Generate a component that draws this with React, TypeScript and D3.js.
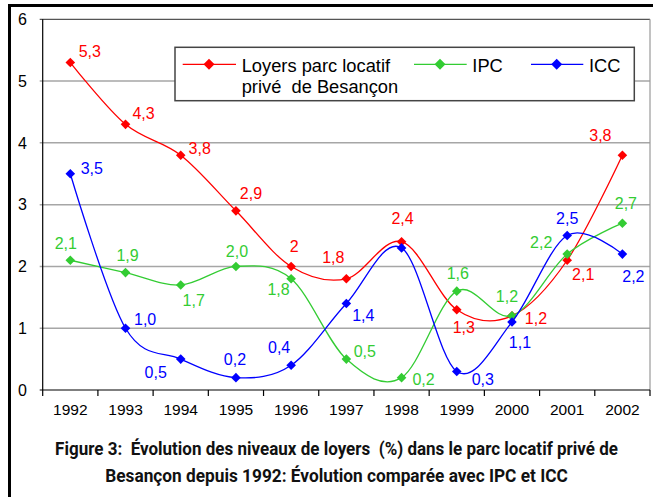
import React from "react";
import * as d3 from "d3";

const years = ["1992","1993","1994","1995","1996","1997","1998","1999","2000","2001","2002"];
const loyers = [5.3, 4.3, 3.8, 2.9, 2.0, 1.8, 2.4, 1.3, 1.2, 2.1, 3.8];
const ipc = [2.1, 1.9, 1.7, 2.0, 1.8, 0.5, 0.2, 1.6, 1.2, 2.2, 2.7];
const icc = [3.5, 1.0, 0.5, 0.2, 0.4, 1.4, 2.3, 0.3, 1.1, 2.5, 2.2];
const loyersLabels = ["5,3","4,3","3,8","2,9","2","1,8","2,4","1,3","1,2","2,1","3,8"];
const ipcLabels = ["2,1","1,9","1,7","2,0","1,8","0,5","0,2","1,6","1,2","2,2","2,7"];
const iccLabels = ["3,5","1,0","0,5","0,2","0,4","1,4","","0,3","1,1","2,5","2,2"];
const yTicks = [0, 1, 2, 3, 4, 5, 6];
const captionLines = [
  "Figure 3:  Évolution des niveaux de loyers  (%) dans le parc locatif privé de",
  "Besançon depuis 1992: Évolution comparée avec IPC et ICC",
];

// label offsets (dx, dy) relative to each point, layout only
const loyersOff = [[19.5,-5.5],[18,-5.3],[19,-1.2],[15,-11.5],[3,-14],[-13,-16],[1,-17.4],[7,23.6],[24,8],[16,20],[-22,-14]];
const ipcOff = [[-4.5,-11],[2,-12],[13,21],[1,-9],[-12.6,16],[18.5,-2],[22,7.4],[1,-12],[-5,-13.5],[-26,-6],[3.5,-14]];
const iccOff = [[21.5,0],[19.6,-3],[-25,18.6],[-1,-12.6],[-12,-12],[17,17.5],[0,0],[26,13.5],[8,26],[0,-12],[11,27.7]];

const W = 653, H = 497;
const left = 42.7, right = 650, top = 19.3, bottom = 390;

const capFont = "bold 18.5px Roboto";
function measure(text: string, font: string): number {
  if (typeof document === "undefined") return 0;
  const c = document.createElement("canvas").getContext("2d");
  if (!c) return 0;
  c.font = font;
  return c.measureText(text).width;
}

export default function App() {
  const x = d3.scaleBand<string>().domain(years).range([left, right]);
  const y = d3.scaleLinear().domain([0, 6]).range([bottom, top]);
  const cx = (i: number) => (x(years[i]) as number) + x.bandwidth() / 2;
  const line = d3.line<number>().x((_, i) => cx(i)).y((d) => y(d)).curve(d3.curveCardinal.tension(0));
  const series = [
    { vals: loyers, labels: loyersLabels, off: loyersOff, color: "#ff0000" },
    { vals: ipc, labels: ipcLabels, off: ipcOff, color: "#33cc33" },
    { vals: icc, labels: iccLabels, off: iccOff, color: "#0000ff" },
  ];
  const diamond = (px: number, py: number, r = 4.8) =>
    `M${px},${py - r}L${px + r},${py}L${px},${py + r}L${px - r},${py}Z`;
  const font = "'Liberation Sans', Arial, sans-serif";
  const boundaries = d3.range(years.length + 1).map((i) => left + i * x.bandwidth());
  const capTargets = [563, 463];
  const capY = [455, 481.7];

  return (
    <svg width={W} height={H} style={{ position: "absolute", left: 0, top: 0, background: "#fff" }}>
      <rect x={0} y={0} width={W} height={H} fill="#fff" />
      {/* outer frame */}
      <line x1={8} y1={5.5} x2={W} y2={5.5} stroke="#000" strokeWidth={3} />
      <line x1={9.5} y1={4} x2={9.5} y2={H} stroke="#000" strokeWidth={3} />
      {/* gridlines */}
      {yTicks.filter((t) => t > 0 && t < 6).map((t) => (
        <line key={t} x1={left - 3} x2={right} y1={y(t)} y2={y(t)} stroke="#a6a6a6" strokeWidth={1.5} />
      ))}
      <line x1={left - 3} x2={right} y1={y(6)} y2={y(6)} stroke="#555" strokeWidth={1.2} />
      <line x1={right} x2={right} y1={top} y2={bottom} stroke="#999" strokeWidth={1.2} />
      <line x1={left} x2={left} y1={top} y2={bottom} stroke="#000" strokeWidth={1.2} />
      <line x1={left - 3} x2={right} y1={bottom} y2={bottom} stroke="#000" strokeWidth={1.2} />
      {boundaries.map((b, i) => (
        <line key={i} x1={b} x2={b} y1={bottom} y2={bottom + 6} stroke="#000" strokeWidth={1.2} />
      ))}
      {yTicks.map((t) => (
        <text key={t} x={27} y={y(t)} dy="0.36em" textAnchor="end" fontFamily={font} fontSize={16} fill="#000">{t}</text>
      ))}
      {years.map((yr, i) => (
        <text key={yr} x={cx(i)} y={415} textAnchor="middle" fontFamily={font} fontSize={15.5} fill="#000">{yr}</text>
      ))}
      {/* legend */}
      <rect x={175} y={47.3} width={459.3} height={53.4} fill="#fff" stroke="#444" strokeWidth={1.5} />
      {[
        { x1: 182.7, x2: 236, m: 209, c: "#ff0000" },
        { x1: 414, x2: 466.7, m: 440, c: "#33cc33" },
        { x1: 531, x2: 583.3, m: 556.7, c: "#0000ff" },
      ].map((l, i) => (
        <g key={i}>
          <line x1={l.x1} x2={l.x2} y1={64.3} y2={64.3} stroke={l.c} strokeWidth={1.3} />
          <path d={diamond(l.m, 64.3, 5.5)} fill={l.c} />
        </g>
      ))}
      <text x={241.7} y={71.7} fontFamily={font} fontSize={18.3} fill="#000">Loyers parc locatif</text>
      <text x={241.7} y={93} fontFamily={font} fontSize={18.3} fill="#000" style={{ whiteSpace: "pre" }}>{"privé  de Besançon"}</text>
      <text x={472.3} y={71.7} fontFamily={font} fontSize={18.3} fill="#000">IPC</text>
      <text x={589} y={71.7} fontFamily={font} fontSize={18.3} fill="#000">ICC</text>
      {/* series */}
      {series.map((s, si) => (
        <g key={si}>
          <path d={line(s.vals) || ""} fill="none" stroke={s.color} strokeWidth={1.3} />
          {s.vals.map((v, i) => (
            <path key={i} d={diamond(cx(i), y(v))} fill={s.color} />
          ))}
        </g>
      ))}
      {series.map((s, si) => (
        <g key={"l" + si}>
          {s.vals.map((v, i) =>
            s.labels[i] ? (
              <text key={i} x={cx(i) + s.off[i][0]} y={y(v) + s.off[i][1]} textAnchor="middle" fontFamily={font} fontSize={16} fill={s.color}>{s.labels[i]}</text>
            ) : null
          )}
        </g>
      ))}
      {/* caption */}
      {captionLines.map((t, i) => {
        const w = measure(t, capFont);
        const s = w > 0 ? capTargets[i] / w : 0.8;
        return (
          <text key={i} transform={`translate(336.5,${capY[i]}) scale(${s},1)`} x={0} y={0} textAnchor="middle"
            fontFamily="Roboto" fontWeight="bold" fontSize={18.5} fill="#111" style={{ whiteSpace: "pre" }}>
            {t}
          </text>
        );
      })}
    </svg>
  );
}
